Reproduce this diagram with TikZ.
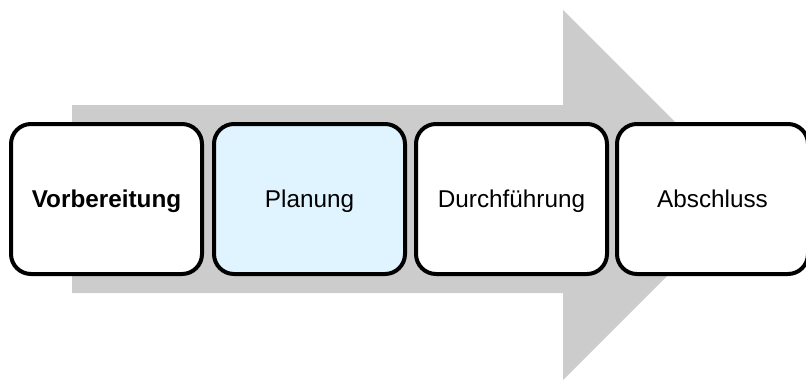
\documentclass[tikz,border=0pt]{standalone}
\usepackage{fontspec}
\setmainfont{Liberation Sans}
\usepackage{tikz}
\usetikzlibrary{positioning}
\definecolor{arrowgray}{RGB}{204,204,204}
\definecolor{planblue}{RGB}{224,244,255}
\tikzset{
  phase/.style={draw, line width=4pt, rounded corners=20pt, fill=white,
    minimum width=191pt, minimum height=150pt,
    text height=17pt, text depth=1pt,
    font=\fontsize{24.3}{29}\selectfont}
}

\begin{document}
\begin{tikzpicture}[x=1pt,y=1pt]
            \useasboundingbox (0,0) rectangle (806,384);
            % big arrow in the back
            \fill[arrowgray] (72,91) -- (563,91) -- (563,4) -- (748,189)
                -- (563,374) -- (563,279) -- (72,279) -- cycle;

            \draw node (V) [phase] at (106.5,185) {\textbf{Vorbereitung}};
            \draw node (P) [phase, fill=planblue, right = 8pt of V] {Planung};
            \draw node (D) [phase, right = 7pt of P] {Durchführung};
            \draw node (A) [phase, right = 6pt of D] {Abschluss};
        \end{tikzpicture}
\end{document}
